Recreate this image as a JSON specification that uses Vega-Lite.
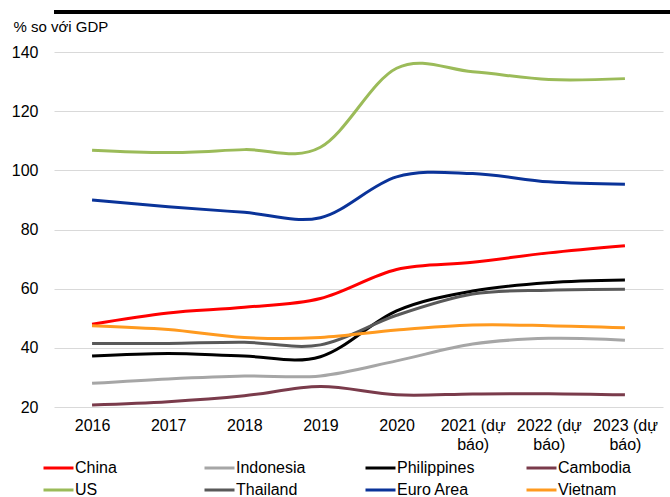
{
  "$schema": "https://vega.github.io/schema/vega-lite/v6.json",
  "padding": {"top": 10, "left": 0, "right": 0, "bottom": 0},
  "autosize": {"type": "pad"},
  "spacing": 5,
  "config": {
    "font": "Liberation Sans",
    "view": {"stroke": null}
  },
  "resolve": {"legend": {"color": "independent"}},
  "vconcat": [
    {
      "width": 670,
      "height": 4,
      "view": {"fill": "#000000", "stroke": null},
      "data": {"values": [{}]},
      "mark": {"type": "rect", "color": "#000000"},
      "encoding": {}
    },
    {
      "width": 609,
      "height": 355,
      "data": {
        "values": [
          {"country": "China", "year": "2016", "value": 48.0},
          {"country": "China", "year": "2017", "value": 51.8},
          {"country": "China", "year": "2018", "value": 53.7},
          {"country": "China", "year": "2019", "value": 56.7},
          {"country": "China", "year": "2020", "value": 66.5},
          {"country": "China", "year": "2021 (dự báo)", "value": 68.9},
          {"country": "China", "year": "2022 (dự báo)", "value": 72.1},
          {"country": "China", "year": "2023 (dự báo)", "value": 74.5},
          {"country": "Indonesia", "year": "2016", "value": 28.0},
          {"country": "Indonesia", "year": "2017", "value": 29.5},
          {"country": "Indonesia", "year": "2018", "value": 30.5},
          {"country": "Indonesia", "year": "2019", "value": 30.5},
          {"country": "Indonesia", "year": "2020", "value": 35.6},
          {"country": "Indonesia", "year": "2021 (dự báo)", "value": 41.3},
          {"country": "Indonesia", "year": "2022 (dự báo)", "value": 43.2},
          {"country": "Indonesia", "year": "2023 (dự báo)", "value": 42.6},
          {"country": "Philippines", "year": "2016", "value": 37.2},
          {"country": "Philippines", "year": "2017", "value": 38.1},
          {"country": "Philippines", "year": "2018", "value": 37.2},
          {"country": "Philippines", "year": "2019", "value": 37.0},
          {"country": "Philippines", "year": "2020", "value": 52.5},
          {"country": "Philippines", "year": "2021 (dự báo)", "value": 59.2},
          {"country": "Philippines", "year": "2022 (dự báo)", "value": 62.0},
          {"country": "Philippines", "year": "2023 (dự báo)", "value": 62.9},
          {"country": "Cambodia", "year": "2016", "value": 20.7},
          {"country": "Cambodia", "year": "2017", "value": 21.8},
          {"country": "Cambodia", "year": "2018", "value": 23.8},
          {"country": "Cambodia", "year": "2019", "value": 26.9},
          {"country": "Cambodia", "year": "2020", "value": 24.1},
          {"country": "Cambodia", "year": "2021 (dự báo)", "value": 24.4},
          {"country": "Cambodia", "year": "2022 (dự báo)", "value": 24.5},
          {"country": "Cambodia", "year": "2023 (dự báo)", "value": 24.1},
          {"country": "US", "year": "2016", "value": 106.8},
          {"country": "US", "year": "2017", "value": 106.0},
          {"country": "US", "year": "2018", "value": 107.0},
          {"country": "US", "year": "2019", "value": 107.8},
          {"country": "US", "year": "2020", "value": 134.5},
          {"country": "US", "year": "2021 (dự báo)", "value": 133.3},
          {"country": "US", "year": "2022 (dự báo)", "value": 130.7},
          {"country": "US", "year": "2023 (dự báo)", "value": 131.0},
          {"country": "Thailand", "year": "2016", "value": 41.5},
          {"country": "Thailand", "year": "2017", "value": 41.5},
          {"country": "Thailand", "year": "2018", "value": 41.9},
          {"country": "Thailand", "year": "2019", "value": 41.0},
          {"country": "Thailand", "year": "2020", "value": 51.0},
          {"country": "Thailand", "year": "2021 (dự báo)", "value": 58.2},
          {"country": "Thailand", "year": "2022 (dự báo)", "value": 59.5},
          {"country": "Thailand", "year": "2023 (dự báo)", "value": 59.8},
          {"country": "Euro Area", "year": "2016", "value": 90.0},
          {"country": "Euro Area", "year": "2017", "value": 87.7},
          {"country": "Euro Area", "year": "2018", "value": 85.8},
          {"country": "Euro Area", "year": "2019", "value": 84.0},
          {"country": "Euro Area", "year": "2020", "value": 97.8},
          {"country": "Euro Area", "year": "2021 (dự báo)", "value": 98.9},
          {"country": "Euro Area", "year": "2022 (dự báo)", "value": 96.1},
          {"country": "Euro Area", "year": "2023 (dự báo)", "value": 95.3},
          {"country": "Vietnam", "year": "2016", "value": 47.5},
          {"country": "Vietnam", "year": "2017", "value": 46.2},
          {"country": "Vietnam", "year": "2018", "value": 43.5},
          {"country": "Vietnam", "year": "2019", "value": 43.5},
          {"country": "Vietnam", "year": "2020", "value": 46.0},
          {"country": "Vietnam", "year": "2021 (dự báo)", "value": 47.7},
          {"country": "Vietnam", "year": "2022 (dự báo)", "value": 47.5},
          {"country": "Vietnam", "year": "2023 (dự báo)", "value": 46.8}
        ]
      },
      "mark": {"type": "line", "interpolate": "cardinal", "strokeWidth": 3},
      "encoding": {
        "x": {
          "field": "year",
          "type": "ordinal",
          "sort": null,
          "scale": {"padding": 0.5},
          "axis": {
            "title": null,
            "labelAngle": 0,
            "domain": false,
            "ticks": false,
            "grid": false,
            "labelFontSize": 16,
            "labelColor": "#000000",
            "labelPadding": 10,
            "labelLineHeight": 19,
            "labelExpr": "length(datum.label) > 4 ? [slice(datum.label, 0, 8), slice(datum.label, 9)] : datum.label"
          }
        },
        "y": {
          "field": "value",
          "type": "quantitative",
          "scale": {"domain": [20, 140], "nice": false, "zero": false},
          "axis": {
            "values": [20, 40, 60, 80, 100, 120, 140],
            "title": "% so với GDP",
            "titleAngle": 0,
            "titleAlign": "left",
            "titleBaseline": "middle",
            "titleX": -41,
            "titleY": -26,
            "titleFontSize": 15,
            "titleFontWeight": "normal",
            "titleColor": "#000000",
            "labelFontSize": 16,
            "labelColor": "#000000",
            "domain": false,
            "ticks": true,
            "tickSize": 53,
            "tickColor": "transparent",
            "labelPadding": -37,
            "grid": true,
            "gridColor": "#d9d9d9",
            "gridWidth": 1
          }
        },
        "color": {
          "field": "country",
          "type": "nominal",
          "sort": null,
          "scale": {
            "domain": ["China", "Indonesia", "Philippines", "Cambodia", "US", "Thailand", "Euro Area", "Vietnam"],
            "range": ["#ff0000", "#a6a6a6", "#000000", "#7a3b4b", "#9bbb59", "#595959", "#0a3399", "#ff9a1f"]
          },
          "legend": {
            "title": null,
            "orient": "none",
            "legendX": -12,
            "legendY": 408,
            "direction": "horizontal",
            "columns": 4,
            "gridAlign": "all",
            "columnPadding": 50,
            "rowPadding": 6,
            "clipHeight": 16,
            "padding": 0,
            "symbolType": "stroke",
            "symbolSize": 900,
            "symbolStrokeWidth": 3,
            "labelFontSize": 16,
            "labelColor": "#000000",
            "labelOffset": 0,
            "labelLimit": 200
          }
        }
      }
    }
  ]
}
